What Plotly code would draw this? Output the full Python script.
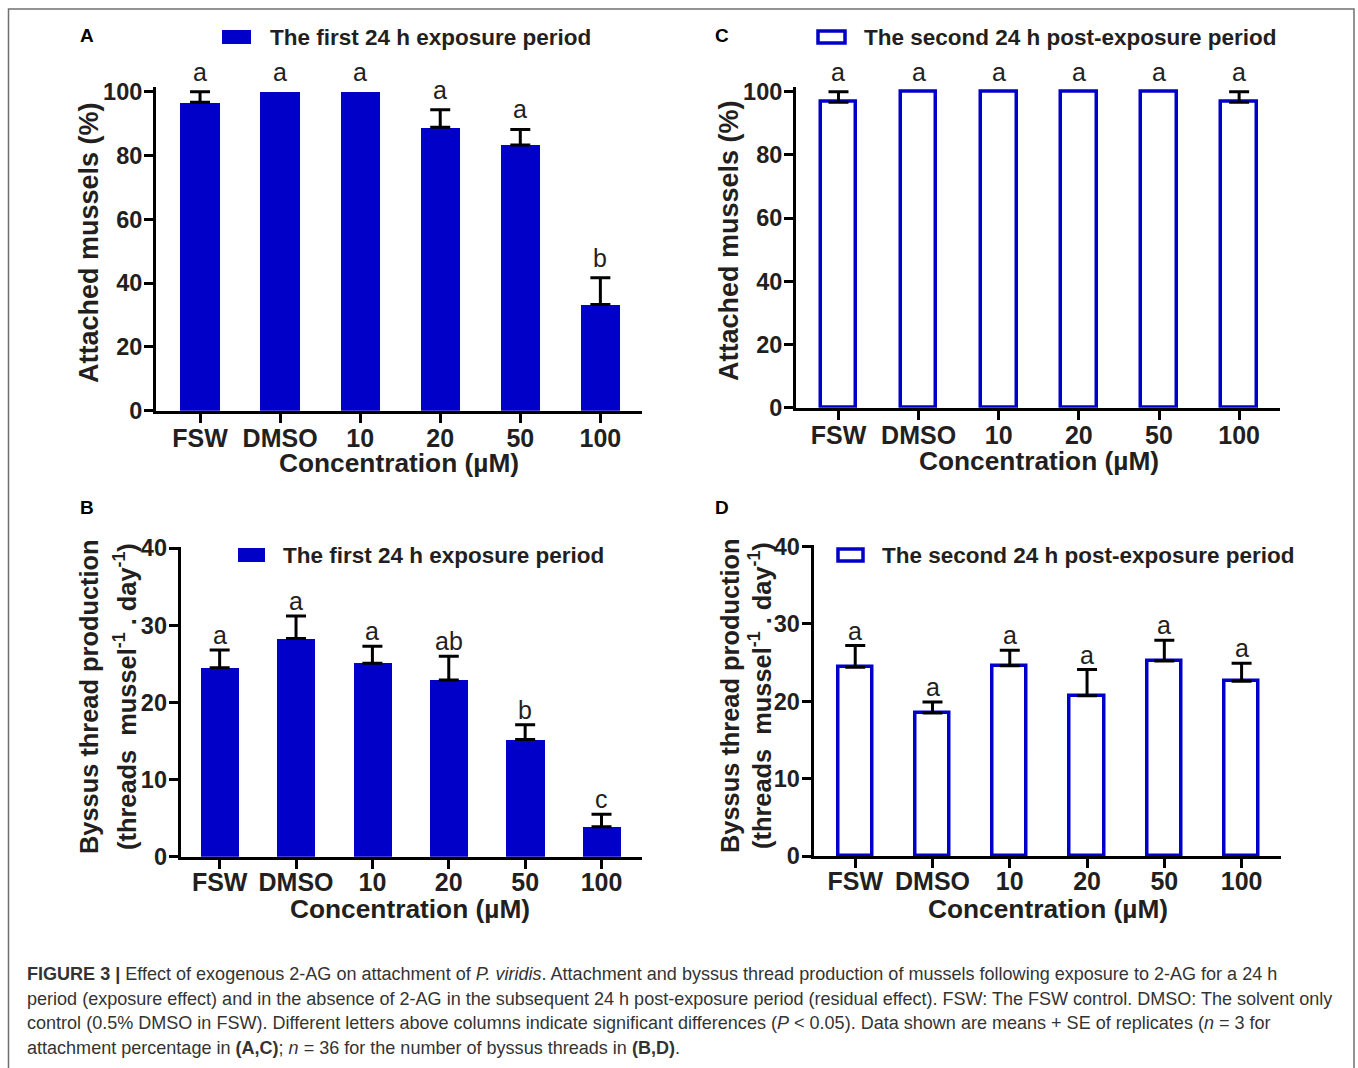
import plotly.graph_objects as go

W, H = 1358, 1068

categories = ["FSW", "DMSO", "10", "20", "50", "100"]

# Attached mussels (%), first 24 h exposure period (panel A)
attach_exposure_mean = [96.7, 100.0, 100.0, 88.9, 83.3, 33.3]
attach_exposure_se = [3.3, 0.0, 0.0, 5.5, 4.9, 8.4]
attach_exposure_letters = ["a", "a", "a", "a", "a", "b"]

# Attached mussels (%), second 24 h post-exposure period (panel C)
attach_post_mean = [96.7, 100.0, 100.0, 100.0, 100.0, 96.7]
attach_post_se = [3.3, 0.0, 0.0, 0.0, 0.0, 3.3]
attach_post_letters = ["a", "a", "a", "a", "a", "a"]

# Byssus threads per mussel per day, first 24 h exposure period (panel B)
byssus_exposure_mean = [24.5, 28.3, 25.1, 22.9, 15.2, 3.9]
byssus_exposure_se = [2.3, 2.9, 2.2, 3.1, 1.9, 1.6]
byssus_exposure_letters = ["a", "a", "a", "ab", "b", "c"]

# Byssus threads per mussel per day, second 24 h post-exposure period (panel D)
byssus_post_mean = [24.4, 18.5, 24.6, 20.7, 25.2, 22.6]
byssus_post_se = [2.8, 1.4, 2.0, 3.4, 2.7, 2.3]
byssus_post_letters = ["a", "a", "a", "a", "a", "a"]

attach_ticks = [0, 20, 40, 60, 80, 100]
byssus_ticks = [0, 10, 20, 30, 40]

label_exposure = "The first 24 h exposure period"
label_post = "The second 24 h post-exposure period"
x_title = "Concentration (µM)"
y_title_attach = "Attached mussels (%)"
y_title_byssus = ["Byssus thread production",
                  "(threads&nbsp; mussel<sup>-1</sup> . day<sup>-1</sup>)"]

BLUE = "#0000c8"
INK = "#231f20"
FONT = "Liberation Sans"


def fx(p):
    return p / W


def fy(p):
    return 1 - p / H


panels = [
    dict(tag="A", ax="", mean=attach_exposure_mean, se=attach_exposure_se,
         letters=attach_exposure_letters, filled=True,
         xpx=(156, 642), ypx=(86.7, 410.7), xr=[-0.55, 5.52], yr=[0, 101.6],
         ticks=attach_ticks, bw=0.49, lshift=4, xstand=-6),
    dict(tag="C", ax="2", mean=attach_post_mean, se=attach_post_se,
         letters=attach_post_letters, filled=False,
         xpx=(796, 1280), ypx=(86.7, 407.7), xr=[-0.53, 5.51], yr=[0, 101.6],
         ticks=attach_ticks, bw=0.445, lshift=4, xstand=-6),
    dict(tag="B", ax="3", mean=byssus_exposure_mean, se=byssus_exposure_se,
         letters=byssus_exposure_letters, filled=True,
         xpx=(180.7, 642), ypx=(546.7, 856.7), xr=[-0.51, 5.53], yr=[0, 40.2],
         ticks=byssus_ticks, bw=0.5, lshift=-1, xstand=-8),
    dict(tag="D", ax="4", mean=byssus_post_mean, se=byssus_post_se,
         letters=byssus_post_letters, filled=False,
         xpx=(813.5, 1281), ypx=(545, 856), xr=[-0.54, 5.51], yr=[0, 40.2],
         ticks=byssus_ticks, bw=0.445, lshift=-1, xstand=-8),
]

fig = go.Figure()
annotations = []
shapes = []

for p in panels:
    xa, ya = "x" + p["ax"], "y" + p["ax"]
    if p["filled"]:
        marker = dict(color=BLUE, line=dict(width=0))
    else:
        marker = dict(color="white", line=dict(color=BLUE, width=3.5))
    fig.add_trace(go.Bar(
        x=categories, y=p["mean"], width=p["bw"], marker=marker,
        xaxis=xa, yaxis=ya, hoverinfo="skip",
    ))
    # upper SE bars, only for columns with a non-zero SE
    ex = [c for c, s in zip(categories, p["se"]) if s > 0]
    ey = [m for m, s in zip(p["mean"], p["se"]) if s > 0]
    es = [s for s in p["se"] if s > 0]
    fig.add_trace(go.Scatter(
        x=ex, y=ey, mode="markers", marker=dict(size=1, opacity=0),
        error_y=dict(type="data", symmetric=False, array=es,
                     arrayminus=[0] * len(es), color="black",
                     thickness=3, width=10),
        xaxis=xa, yaxis=ya, hoverinfo="skip",
    ))
    # significance letters above each column (x given as category index)
    for i, (m, s, t) in enumerate(zip(p["mean"], p["se"], p["letters"])):
        annotations.append(dict(
            x=i, y=m + s, xref=xa, yref=ya, text=t, showarrow=False,
            xanchor="center", yanchor="bottom", yshift=p["lshift"],
            font=dict(family=FONT, size=25, color=INK),
        ))

    axis_common = dict(
        showline=True, linewidth=3, linecolor="black", ticks="outside",
        ticklen=9, tickwidth=3, tickcolor="black", showgrid=False,
        zeroline=False, fixedrange=True, automargin=False,
    )
    fig.update_layout(**{
        ("xaxis" + p["ax"]): dict(
            axis_common, domain=[fx(p["xpx"][0]), fx(p["xpx"][1])],
            anchor=ya, type="category", range=p["xr"], ticklabelstandoff=p["xstand"],
            tickfont=dict(family=FONT, size=25, color=INK, weight="bold"),
        ),
        ("yaxis" + p["ax"]): dict(
            axis_common, domain=[fy(p["ypx"][1]), fy(p["ypx"][0])],
            anchor=xa, range=p["yr"], tickvals=p["ticks"], ticklabelstandoff=-3,
            tickfont=dict(family=FONT, size=23.5, color=INK, weight="bold"),
        ),
    })


def paper_text(x, y, text, size, bold=True, anchor="center", angle=0, color=INK):
    return dict(x=fx(x), y=fy(y), xref="paper", yref="paper", text=text,
                showarrow=False, xanchor=anchor, yanchor="middle", textangle=angle,
                font=dict(family=FONT, size=size, color=color,
                          weight="bold" if bold else "normal"))


# panel letters
for t, x, y in [("A", 86.5, 35.5), ("C", 722, 35.5), ("B", 86.5, 507), ("D", 722, 507)]:
    annotations.append(paper_text(x, y, t, 19, color="black"))

# legend swatches and labels
legend_items = [
    (True, (222, 30, 251, 44), 268, 37, label_exposure),
    (False, (818, 31, 845, 43), 862, 37, label_post),
    (True, (238, 548, 265, 562), 281, 555, label_exposure),
    (False, (838, 549, 863, 561), 880, 555, label_post),
]
for filled, (x0, y0, x1, y1), tx, ty, txt in legend_items:
    shapes.append(dict(
        type="rect", xref="paper", yref="paper",
        x0=fx(x0), x1=fx(x1), y0=fy(y1), y1=fy(y0),
        fillcolor=BLUE if filled else "white",
        line=dict(color=BLUE, width=0 if filled else 3.5),
    ))
    annotations.append(paper_text(tx, ty, txt, 22.5, anchor="left"))

# axis titles
for x, y in [(399, 463), (1039, 461), (410, 909), (1048, 909)]:
    annotations.append(paper_text(x, y, x_title, 26.3))
for x, y in [(89, 243), (729, 241)]:
    annotations.append(paper_text(x, y, y_title_attach, 27, angle=-90))
for x1, x2, y in [(89, 125, 697), (730, 760, 696)]:
    annotations.append(paper_text(x1, y, y_title_byssus[0], 25.4, angle=-90))
    annotations.append(paper_text(x2, y, y_title_byssus[1], 25.4, angle=-90))

# caption
caption_lines = [
    "<b>FIGURE 3 |</b> Effect of exogenous 2-AG on attachment of <i>P. viridis</i>. "
    "Attachment and byssus thread production of mussels following exposure to 2-AG for a 24 h",
    "period (exposure effect) and in the absence of 2-AG in the subsequent 24 h post-exposure "
    "period (residual effect). FSW: The FSW control. DMSO: The solvent only",
    "control (0.5% DMSO in FSW). Different letters above columns indicate significant differences "
    "(<i>P</i> &lt; 0.05). Data shown are means + SE of replicates (<i>n</i> = 3 for",
    "attachment percentage in <b>(A,C)</b>; <i>n</i> = 36 for the number of byssus threads in "
    "<b>(B,D)</b>.",
]
for i, line in enumerate(caption_lines):
    annotations.append(paper_text(25, 974 + 24.6 * i, line, 18.05, bold=False,
                                  anchor="left", color="#333333"))

# outer frame around figure and caption
shapes.append(dict(type="rect", xref="paper", yref="paper",
                   x0=fx(8.5), x1=fx(1354), y0=fy(1090), y1=fy(9),
                   line=dict(color="#707070", width=1.5), fillcolor="rgba(0,0,0,0)",
                   layer="below"))

fig.update_layout(
    width=W, height=H, margin=dict(l=0, r=0, t=0, b=0, pad=0, autoexpand=False),
    paper_bgcolor="white", plot_bgcolor="white", showlegend=False,
    bargap=0, annotations=annotations, shapes=shapes,
)

fig.write_html("out.html", config={"displayModeBar": False})
